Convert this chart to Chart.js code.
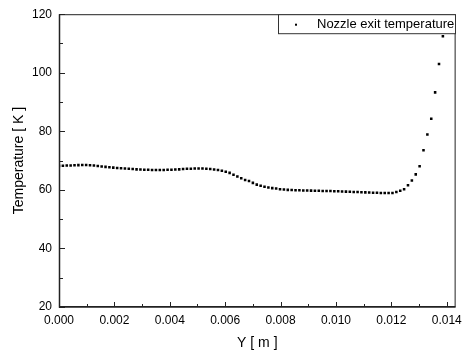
<!DOCTYPE html>
<html>
<head>
<meta charset="utf-8">
<script src="https://cdn.jsdelivr.net/npm/chart.js@4/dist/chart.umd.min.js"></script>
<style>
  html, body { margin: 0; padding: 0; background: #fff; }
  #wrap { width: 468px; height: 353px; }
</style>
</head>
<body>
<div id="wrap"><canvas id="chart" width="468" height="353"></canvas></div>
<script>
const seriesLabel = 'Nozzle exit temperature';
const xTitle = 'Y [ m ]';
const yTitle = 'Temperature [ K ]';

// Y position [m]
const yPos = [
  0, 0.00014, 0.00028, 0.00042, 0.00056, 0.0007, 0.00084, 0.00098, 0.00112, 0.00126,
  0.0014, 0.00154, 0.00168, 0.00182, 0.00196, 0.0021, 0.00224, 0.00238, 0.00252, 0.00266,
  0.0028, 0.00294, 0.00308, 0.00322, 0.00336, 0.0035, 0.00364, 0.00378, 0.00392, 0.00406,
  0.0042, 0.00434, 0.00448, 0.00462, 0.00476, 0.0049, 0.00504, 0.00518, 0.00532, 0.00546,
  0.0056, 0.00574, 0.00588, 0.00602, 0.00616, 0.0063, 0.00644, 0.00658, 0.00672, 0.00686,
  0.007, 0.00714, 0.00728, 0.00742, 0.00756, 0.0077, 0.00784, 0.00798, 0.00812, 0.00826,
  0.0084, 0.00854, 0.00868, 0.00882, 0.00896, 0.0091, 0.00924, 0.00938, 0.00952, 0.00966,
  0.0098, 0.00994, 0.01008, 0.01022, 0.01036, 0.0105, 0.01064, 0.01078, 0.01092, 0.01106,
  0.0112, 0.01134, 0.01148, 0.01162, 0.01176, 0.0119, 0.01204, 0.01218, 0.01232, 0.01246,
  0.0126, 0.01274, 0.01288, 0.01302, 0.01316, 0.0133, 0.01344, 0.01358, 0.01372, 0.01386
];

// temperature [K]
const temperature = [
  68.2, 68.25, 68.3, 68.35, 68.4, 68.45, 68.5, 68.5, 68.4, 68.3,
  68.15, 68.0, 67.85, 67.75, 67.6, 67.5, 67.4, 67.3, 67.2, 67.1,
  67.0, 66.95, 66.9, 66.85, 66.8, 66.8, 66.8, 66.8, 66.85, 66.9,
  66.95, 67.0, 67.1, 67.2, 67.25, 67.3, 67.3, 67.3, 67.25, 67.1,
  66.95, 66.8, 66.5, 66.2, 65.8, 65.2, 64.6, 64.0, 63.4, 63.0,
  62.4, 61.8, 61.4, 61.05, 60.8, 60.6, 60.45, 60.2, 60.1, 60.0,
  59.95, 59.9, 59.85, 59.8, 59.8, 59.75, 59.7, 59.7, 59.65, 59.6,
  59.6, 59.55, 59.5, 59.45, 59.4, 59.35, 59.3, 59.25, 59.2, 59.15,
  59.1, 59.05, 59.0, 58.95, 58.9, 58.9, 58.95, 59.3, 59.7, 60.2,
  61.6, 63.2, 65.3, 68.1, 73.5, 78.9, 84.3, 93.3, 103.0, 112.5
];

const xTicks = [0, 0.002, 0.004, 0.006, 0.008, 0.010, 0.012, 0.014];
const xMinorTicks = [0.001, 0.003, 0.005, 0.007, 0.009, 0.011, 0.013];
const yTicks = [20, 40, 60, 80, 100, 120];
const yMinorTicks = [30, 50, 70, 90, 110];

const FONT = '"Liberation Sans", Arial, sans-serif';

// frame, inward tick marks and boxed legend
const framePlugin = {
  id: 'frame',
  afterDraw(chart) {
    const ctx = chart.ctx;
    const a = chart.chartArea;
    const xs = chart.scales.x;
    const ys = chart.scales.y;
    ctx.save();
    ctx.strokeStyle = '#222';
    ctx.lineWidth = 1;
    ctx.strokeRect(a.left + 0.5, a.top + 0.5, a.right - a.left - 1, a.bottom - a.top - 1);
    ctx.lineWidth = 1.5;
    ctx.beginPath();
    ctx.moveTo(a.left + 0.5, a.top);
    ctx.lineTo(a.left + 0.5, a.bottom);
    ctx.lineTo(a.right, a.bottom);
    ctx.stroke();

    ctx.lineWidth = 1;
    ctx.beginPath();
    xTicks.forEach(v => {
      const px = Math.round(xs.getPixelForValue(v)) + 0.5;
      ctx.moveTo(px, a.bottom); ctx.lineTo(px, a.bottom - 5);
    });
    xMinorTicks.forEach(v => {
      const px = Math.round(xs.getPixelForValue(v)) + 0.5;
      ctx.moveTo(px, a.bottom); ctx.lineTo(px, a.bottom - 3);
    });
    yTicks.forEach(v => {
      const py = Math.round(ys.getPixelForValue(v)) + 0.5;
      ctx.moveTo(a.left, py); ctx.lineTo(a.left + 6, py);
    });
    yMinorTicks.forEach(v => {
      const py = Math.round(ys.getPixelForValue(v)) + 0.5;
      ctx.moveTo(a.left, py); ctx.lineTo(a.left + 4, py);
    });
    ctx.stroke();

    // legend
    const bx = 278.5, by = a.top + 0.5, bw = 177, bh = 19;
    ctx.fillStyle = '#fff';
    ctx.fillRect(bx, by, bw, bh);
    ctx.strokeStyle = '#333';
    ctx.lineWidth = 1;
    ctx.strokeRect(bx, by, bw, bh);
    ctx.fillStyle = '#000';
    ctx.fillRect(295, by + 9, 2, 2);
    ctx.font = '13px ' + FONT;
    ctx.textBaseline = 'middle';
    ctx.textAlign = 'left';
    ctx.fillText(seriesLabel, 317, by + 10);
    ctx.restore();
  }
};

new Chart(document.getElementById('chart'), {
  type: 'scatter',
  data: {
    datasets: [{
      label: seriesLabel,
      data: yPos.map((x, i) => ({ x: x, y: temperature[i] })),
      pointStyle: 'rect',
      pointRadius: 1.8,
      pointBorderWidth: 0,
      backgroundColor: '#000',
      borderColor: '#000'
    }]
  },
  options: {
    responsive: false,
    animation: false,
    devicePixelRatio: 1,
    layout: { padding: { top: 13, right: 10, left: 0, bottom: 0 } },
    plugins: {
      legend: { display: false },
      tooltip: { enabled: false }
    },
    scales: {
      x: {
        type: 'linear',
        min: 0,
        max: 0.01432,
        afterFit(scale) { scale.height = 46; },
        afterBuildTicks(scale) { scale.ticks = xTicks.map(v => ({ value: v })); },
        grid: { display: false, drawTicks: false },
        border: { display: false },
        ticks: {
          padding: 6,
          color: '#000',
          font: { family: FONT, size: 12 },
          maxRotation: 0,
          autoSkip: false,
          callback: v => v.toFixed(3)
        },
        title: {
          display: true,
          text: xTitle,
          color: '#000',
          font: { family: FONT, size: 14 },
          padding: { top: 0, bottom: 1 }
        }
      },
      y: {
        min: 20,
        max: 120,
        afterFit(scale) { scale.width = 59; },
        afterBuildTicks(scale) { scale.ticks = yTicks.map(v => ({ value: v })); },
        grid: { display: false, drawTicks: false },
        border: { display: false },
        ticks: {
          padding: 7,
          color: '#000',
          font: { family: FONT, size: 12 }
        },
        title: {
          display: true,
          text: yTitle,
          color: '#000',
          font: { family: FONT, size: 14 },
          padding: { top: 11, bottom: 0 }
        }
      }
    }
  },
  plugins: [framePlugin]
});
</script>
</body>
</html>
